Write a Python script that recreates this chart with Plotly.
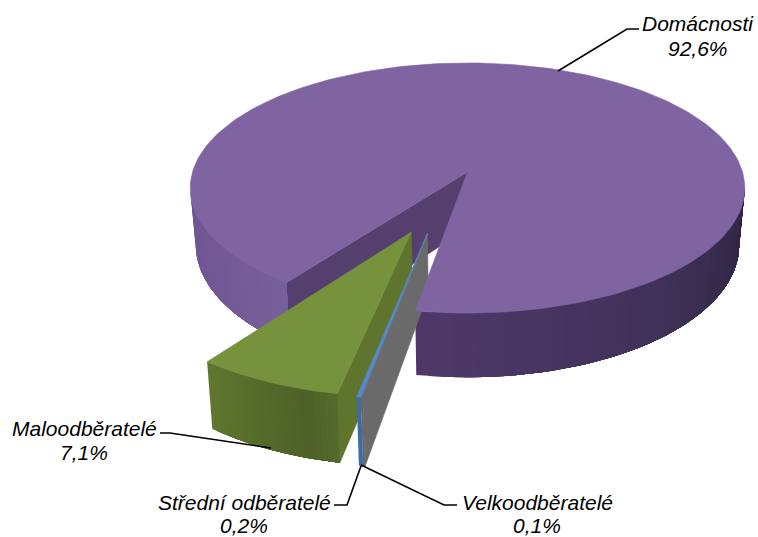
import math
import plotly.graph_objects as go

# ---- data ----
categories = ["Maloodběratelé", "Střední odběratelé", "Velkoodběratelé", "Domácnosti"]
values = [7.1, 0.2, 0.1, 92.6]

# ---- styling ----
top_colors = ["#76923c", "#5588cc", "#6e6e6e", "#8064a2"]
cut_colors = ["#5f742d", "#3f6ca3", "#6a6a6a", "#553f6e"]
wall_stops = {
    0: [(0.0, "#5f772e"), (0.8, "#4e6128"), (1.0, "#566c2b")],
    1: [(0.0, "#3f6ca3"), (1.0, "#3f6ca3")],
    2: [(0.0, "#6a6a6a"), (1.0, "#6a6a6a")],
}
purple_left = [(0.0, "#6e5392"), (1.0, "#78609a")]
purple_right = [(0.0, "#50396a"), (0.5, "#41325a"), (1.0, "#2e2540")]
explode = [(-0.200, 0.482), (-0.142, 0.498), (-0.142, 0.498), (0.0, 0.0)]
tip_explode = [(-0.192, 0.459), (-0.137, 0.470), (-0.137, 0.470), (0.0, 0.0)]

W, H = 758, 537
X0, Y0, A, B, K, DEPTH, TAPER = 467.5, 172.0, 275.0, 123.0, 0.128, 56.0, 0.02
START = 36.2  # first slice boundary, degrees from the front, towards the left
EDGE = math.degrees(math.acos(K))  # silhouette angle


def hex_rgb(c):
    return tuple(int(c[i:i + 2], 16) for i in (1, 3, 5))


def ramp(stops, t):
    for (t0, c0), (t1, c1) in zip(stops, stops[1:]):
        if t <= t1:
            f = (t - t0) / (t1 - t0)
            a, b = hex_rgb(c0), hex_rgb(c1)
            return "rgb(%d,%d,%d)" % tuple(a[i] + (b[i] - a[i]) * f for i in range(3))
    return stops[-1][1]


def proj(off, theta, r=1.0, z=0.0):
    t = math.radians(theta)
    x = off[0] - r * math.sin(t)
    y = off[1] + r * math.cos(t)
    d = 1 - K * y
    return X0 + A * x / d * (1 - TAPER * z), Y0 + (B * y + DEPTH * z) / d


fig = go.Figure()


def poly(pts, color, name, lw=0.6):
    fig.add_trace(go.Scatter(
        x=[p[0] for p in pts] + [pts[0][0]], y=[p[1] for p in pts] + [pts[0][1]],
        mode="lines", fill="toself", fillcolor=color,
        line=dict(color=color, width=lw), hoverinfo="skip", showlegend=False, name=name))


def arc(off, a0, a1, z=0.0):
    n = max(2, int(abs(a1 - a0) / 1.5) + 2)
    return [proj(off, a0 + (a1 - a0) * i / (n - 1), 1.0, z) for i in range(n)]


def wall(off, a0, a1, stops, name, bands=36):
    # every band reaches to the end of the wall, later bands paint over it, so no seams show
    for i in range(bands):
        u0 = a0 + (a1 - a0) * i / bands
        poly(arc(off, u0, a1) + arc(off, a1, u0, 1.0), ramp(stops, (i + 0.5) / bands), name, 0)


def cut(off, tip, a, color, name):
    poly([proj(tip, a, 0.0), proj(off, a), proj(off, a, 1.0, 1.0), proj(tip, a, 0.0, 1.0)], color, name)


def top(i, a0, a1):
    poly([proj(tip_explode[i], a0, 0.0)] + arc(explode[i], a0, a1), top_colors[i], categories[i])


# slice boundaries from the values
bounds = []
cur = START
for v in values:
    nxt = cur - v / sum(values) * 360.0
    bounds.append((cur, nxt))
    cur = nxt

# Domácnosti: walls first
p0, p1 = bounds[3]
off = explode[3]
cut(off, tip_explode[3], p1, cut_colors[3], categories[3])
wall(off, EDGE, p1 + 360, purple_left, categories[3], 20)
wall(off, p0, -EDGE, purple_right, categories[3], 40)

# Maloodběratelé
a0, a1 = bounds[0]
wall(explode[0], a0, a1, wall_stops[0], categories[0], 24)
cut(explode[0], tip_explode[0], a1, cut_colors[0], categories[0])
top(0, a0, a1)

# Velkoodběratelé
a0, a1 = bounds[2]
cut(explode[2], tip_explode[2], a1, cut_colors[2], categories[2])
wall(explode[2], a0, a1, wall_stops[2], categories[2], 2)
top(2, a0, a1)

# Střední odběratelé
a0, a1 = bounds[1]
wall(explode[1], a0, a1, wall_stops[1], categories[1], 2)
top(1, a0, a1)

# Domácnosti top goes over the thin slices
top(3, p0, p1)

# leader lines
leaders = {
    "Domácnosti": [(558, 71), (627, 29), (639, 29)],
    "Maloodběratelé": [(160, 433), (170, 433), (271, 448)],
    "Střední odběratelé": [(334, 505), (347, 505), (361, 466)],
    "Velkoodběratelé": [(361, 465), (444, 505), (457, 505)],
}
for pts in leaders.values():
    fig.add_trace(go.Scatter(x=[p[0] for p in pts], y=[p[1] for p in pts], mode="lines",
                             line=dict(color="#000000", width=1.6), hoverinfo="skip", showlegend=False))

label_pos = {
    "Domácnosti": (698, 23, 48),
    "Maloodběratelé": (84, 428, 452),
    "Střední odběratelé": (244, 502, 525.5),
    "Velkoodběratelé": (537, 502, 525.5),
}
font = dict(family="Liberation Sans, Arial", size=21, color="#000000")
for name, v in zip(categories, values):
    x, y1, y2 = label_pos[name]
    for text, y in ((name, y1), (("%.1f" % v).replace(".", ",") + "%", y2)):
        fig.add_annotation(x=x, y=y, text="<i>%s</i>" % text, showarrow=False,
                           xanchor="center", yanchor="middle", font=font, borderpad=0)

fig.update_layout(
    width=W, height=H, margin=dict(l=0, r=0, t=0, b=0), showlegend=False,
    paper_bgcolor="white", plot_bgcolor="white",
    xaxis=dict(range=[0, W], visible=False, fixedrange=True),
    yaxis=dict(range=[H, 0], visible=False, fixedrange=True),
)
fig.write_html("out.html", config={"displayModeBar": False},
               post_script="document.body.style.margin='0';")
